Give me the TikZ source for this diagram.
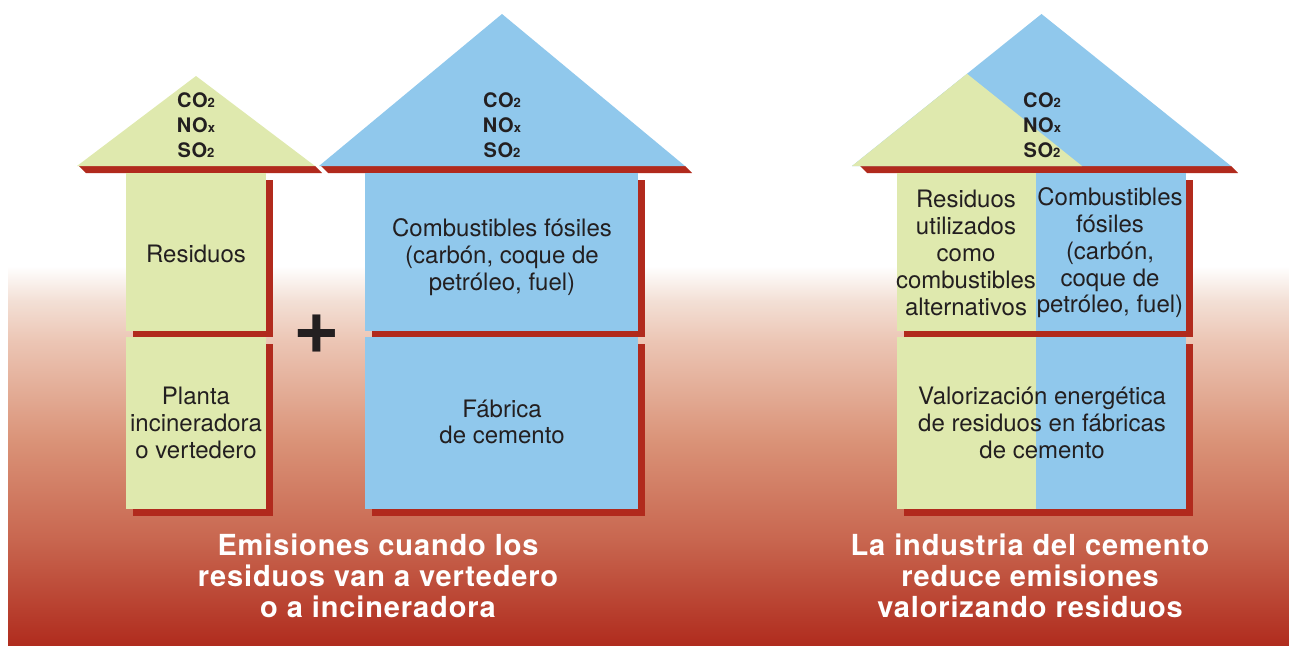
\documentclass[tikz,border=0pt]{standalone}
\usepackage{fontspec}
\setmainfont{TeX Gyre Heros}
\newfontfamily\capfont[LetterSpace=3]{TeX Gyre Heros}
\newfontfamily\gasfont[LetterSpace=3]{TeX Gyre Heros}
\definecolor{grn}{HTML}{DFE9AE}
\definecolor{blu}{HTML}{90C8EC}
\definecolor{shd}{HTML}{B12A1D}
\definecolor{txt}{HTML}{231F20}
\definecolor{bgA}{HTML}{F3E0D6}
\definecolor{bgB}{HTML}{ECC6B5}
\definecolor{bgC}{HTML}{DA9378}
\definecolor{bgD}{HTML}{C8664F}
\definecolor{bgE}{HTML}{B02C1E}
\newcommand\gsub[1]{{\fontsize{13}{13}\selectfont #1}}
\tikzset{
  body/.style={font=\fontsize{24}{26.8}\selectfont, text=txt, align=center, inner sep=0pt},
  gas/.style={font=\gasfont\bfseries\fontsize{20}{25}\selectfont, text=txt, align=center, inner sep=0pt},
  caption/.style={font=\capfont\bfseries\fontsize{29}{31}\selectfont, text=white, align=center, inner sep=0pt},
}
\begin{document}
\begin{tikzpicture}[x=1pt,y=-1pt]
\useasboundingbox (0,0) rectangle (1289,645);
% background gradient
\shade[top color=white, bottom color=bgA] (8,266) rectangle (1289,300.5);
\shade[top color=bgA, bottom color=bgB] (8,300) rectangle (1289,340.5);
\shade[top color=bgB, bottom color=bgC] (8,340) rectangle (1289,440.5);
\shade[top color=bgC, bottom color=bgD] (8,440) rectangle (1289,540.5);
\shade[top color=bgD, bottom color=bgE] (8,540) rectangle (1289,645);

% ---- left house ----
\fill[shd] (79,166) -- (315,166) -- (322,173) -- (86,173) -- cycle;
\fill[grn] (77,166) -- (196,76) -- (315,166) -- cycle;
\fill[shd] (133,180) rectangle (273,337);
\fill[grn] (126,173) rectangle (266,331);
\fill[shd] (133,344) rectangle (273,516);
\fill[grn] (126,337) rectangle (266,509);

% ---- centre house ----
\fill[shd] (321,166) -- (685,166) -- (692,173) -- (328,173) -- cycle;
\fill[blu] (319,166) -- (502,14) -- (685,166) -- cycle;
\fill[shd] (372,180) rectangle (645,337);
\fill[blu] (365,173) rectangle (638,331);
\fill[shd] (372,344) rectangle (645,516);
\fill[blu] (365,337) rectangle (638,509);

% ---- right house ----
\fill[shd] (860,166) -- (1231,166) -- (1238,173) -- (867,173) -- cycle;
\fill[blu] (852,166) -- (1041.5,14) -- (1231,166) -- cycle;
\fill[grn] (852,166) -- (967,73.8) -- (1082,166) -- cycle;
\fill[shd] (904,180) rectangle (1193,337);
\fill[grn] (897,173) rectangle (1036,331);
\fill[blu] (1036,173) rectangle (1186,331);
\fill[shd] (904,344) rectangle (1193,516);
\fill[grn] (897,337) rectangle (1036,509);
\fill[blu] (1036,337) rectangle (1186,509);

% ---- texts ----
\node[gas] (gasL) at (196,125) {CO\gsub{2}\\NO\gsub{x}\\SO\gsub{2}};
\node[gas] (gasC) at (502,125) {CO\gsub{2}\\NO\gsub{x}\\SO\gsub{2}};
\node[gas] (gasR) at (1042,125) {CO\gsub{2}\\NO\gsub{x}\\SO\gsub{2}};

\node[body] (res) at (196,254) {Residuos};
\node[body] (planta) at (196,423) {Planta\\incineradora\\o vertedero};
\node[body] (comb) at (502,257) {Combustibles fósiles\\(carbón, coque de\\petróleo, fuel)};
\node[body] (fab) at (502,422) {Fábrica\\de cemento};
\node[body] (resR) at (966,253) {Residuos\\utilizados\\como\\combustibles\\alternativos};
\node[body] (combR) at (1110,253) {Combustibles\\fósiles\\(carbón,\\coque de\\petróleo, fuel)};
\node[body] (valor) at (1042,423) {Valorización energética\\de residuos en fábricas\\de cemento};

\node[font=\bfseries\fontsize{80}{80}\selectfont, text=txt, inner sep=0pt] (plus) at (317,334) {+};

\node[caption] (capL) at (378,576) {Emisiones cuando los\\residuos van a vertedero\\o a incineradora};
\node[caption] (capR) at (1030,576) {La industria del cemento\\reduce emisiones\\valorizando residuos};
\end{tikzpicture}
\end{document}
